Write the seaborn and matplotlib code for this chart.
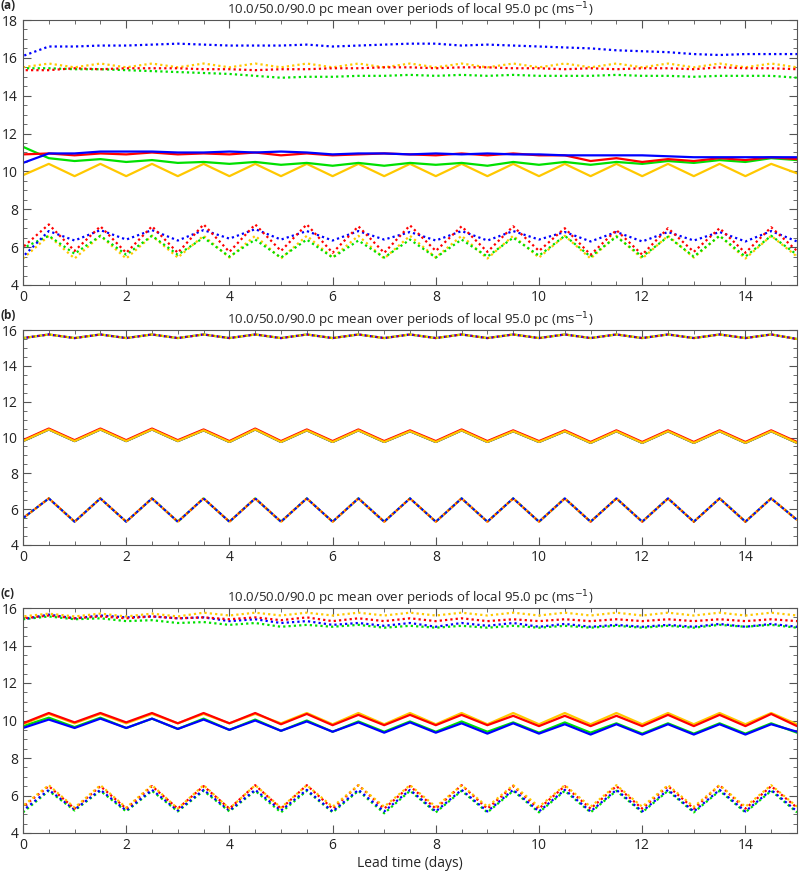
import matplotlib
matplotlib.use("Agg")
import matplotlib.pyplot as plt
import numpy as np
import pandas as pd
import seaborn as sns

days = [0, 0.5, 1, 1.5, 2, 2.5, 3, 3.5, 4, 4.5, 5, 5.5, 6, 6.5, 7, 7.5, 8, 8.5,
        9, 9.5, 10, 10.5, 11, 11.5, 12, 12.5, 13, 13.5, 14, 14.5, 15]

# panel (a)
a_blue_hi = [16.1,16.6,16.6,16.65,16.65,16.7,16.75,16.7,16.65,16.65,16.65,16.7,16.6,16.65,16.7,16.75,16.75,16.65,16.7,16.65,16.6,16.55,16.5,16.4,16.35,16.3,16.2,16.15,16.2,16.2,16.2]
a_orng_hi = [15.5,15.7,15.5,15.7,15.5,15.7,15.5,15.7,15.5,15.7,15.5,15.7,15.5,15.7,15.5,15.7,15.5,15.7,15.5,15.7,15.5,15.7,15.5,15.7,15.5,15.7,15.5,15.7,15.5,15.7,15.5]
a_red_hi = [15.35,15.35,15.45,15.4,15.45,15.45,15.45,15.4,15.4,15.35,15.4,15.4,15.45,15.45,15.5,15.5,15.45,15.5,15.5,15.45,15.45,15.4,15.45,15.4,15.45,15.45,15.4,15.5,15.45,15.45,15.4]
a_grn_hi = [15.45,15.45,15.4,15.4,15.35,15.3,15.25,15.2,15.15,15.05,14.95,15.0,15.0,15.05,15.05,15.1,15.05,15.1,15.05,15.1,15.05,15.05,15.05,15.1,15.05,15.05,15.0,15.05,15.05,15.05,14.95]
a_red_mid = [10.9,10.95,10.85,10.95,10.9,11.0,10.9,10.95,10.9,11.0,10.85,10.95,10.85,10.9,10.95,10.9,10.85,10.95,10.85,10.95,10.85,10.85,10.55,10.7,10.5,10.65,10.55,10.7,10.6,10.75,10.65]
a_blue_mid = [10.45,10.95,10.95,11.05,11.05,11.05,11.0,11.0,11.05,11.0,11.05,11.0,10.9,10.95,10.95,10.9,10.95,10.9,10.95,10.9,10.9,10.85,10.85,10.85,10.85,10.8,10.75,10.75,10.75,10.75,10.75]
a_grn_mid = [11.3,10.7,10.55,10.65,10.5,10.6,10.45,10.5,10.4,10.5,10.35,10.45,10.3,10.45,10.3,10.45,10.35,10.45,10.3,10.5,10.35,10.5,10.35,10.5,10.4,10.55,10.45,10.6,10.5,10.7,10.6]
a_orng_mid = [9.8,10.4,9.75,10.4,9.75,10.4,9.75,10.4,9.75,10.4,9.75,10.4,9.75,10.4,9.75,10.4,9.75,10.4,9.75,10.4,9.75,10.4,9.75,10.4,9.75,10.4,9.75,10.4,9.75,10.4,9.9]
a_red_lo = [6.0,7.2,5.8,7.1,5.7,7.1,5.7,7.2,5.75,7.2,5.8,7.2,5.7,7.1,5.7,7.15,5.8,7.1,5.75,7.1,5.8,7.0,5.6,6.9,5.6,7.0,5.75,7.0,5.7,7.05,5.8]
a_blue_lo = [5.5,6.85,6.35,6.9,6.4,6.9,6.35,6.9,6.45,6.95,6.4,6.85,6.35,6.85,6.4,6.8,6.35,6.85,6.35,6.85,6.4,6.8,6.3,6.8,6.3,6.8,6.35,6.8,6.3,6.85,6.3]
a_grn_lo = [5.95,6.6,5.65,6.6,5.6,6.6,5.6,6.5,5.5,6.4,5.45,6.4,5.45,6.35,5.45,6.4,5.45,6.4,5.5,6.5,5.55,6.6,5.5,6.55,5.5,6.55,5.5,6.6,5.5,6.6,5.6]
a_orng_lo = [5.4,6.6,5.4,6.6,5.4,6.6,5.45,6.6,5.45,6.6,5.4,6.6,5.45,6.6,5.4,6.6,5.45,6.6,5.4,6.6,5.45,6.6,5.4,6.6,5.4,6.6,5.45,6.6,5.4,6.6,5.5]

# panel (b)
b_hi = [15.55,15.75,15.55,15.75,15.55,15.75,15.55,15.75,15.55,15.75,15.55,15.75,15.55,15.75,15.55,15.75,15.55,15.75,15.55,15.75,15.55,15.75,15.55,15.75,15.55,15.75,15.55,15.75,15.55,15.75,15.5]
b_red_mid = [9.85,10.5,9.85,10.5,9.85,10.5,9.85,10.45,9.8,10.5,9.8,10.45,9.8,10.45,9.8,10.4,9.8,10.45,9.8,10.4,9.8,10.4,9.75,10.4,9.75,10.4,9.75,10.4,9.75,10.4,9.75]
b_mid = [9.8,10.45,9.8,10.45,9.8,10.45,9.8,10.4,9.75,10.45,9.75,10.4,9.75,10.4,9.75,10.35,9.75,10.4,9.75,10.35,9.75,10.35,9.7,10.35,9.7,10.35,9.7,10.35,9.7,10.35,9.7]
b_lo = [5.5,6.6,5.3,6.6,5.3,6.6,5.3,6.6,5.3,6.6,5.3,6.6,5.3,6.6,5.3,6.6,5.3,6.6,5.3,6.6,5.3,6.6,5.3,6.6,5.3,6.6,5.3,6.6,5.3,6.6,5.4]

# panel (c)
c_orng_hi = [15.55,15.7,15.55,15.7,15.55,15.7,15.55,15.75,15.6,15.75,15.6,15.75,15.6,15.75,15.6,15.75,15.6,15.75,15.6,15.75,15.6,15.75,15.6,15.75,15.6,15.75,15.6,15.75,15.6,15.75,15.6]
c_red_hi = [15.45,15.6,15.45,15.55,15.45,15.55,15.45,15.5,15.4,15.5,15.35,15.5,15.3,15.45,15.3,15.45,15.3,15.45,15.3,15.4,15.3,15.4,15.3,15.4,15.3,15.4,15.3,15.4,15.3,15.4,15.3]
c_blue_hi = [15.4,15.65,15.45,15.6,15.5,15.55,15.45,15.5,15.3,15.4,15.2,15.3,15.1,15.2,15.05,15.2,15.0,15.2,15.05,15.2,15.0,15.15,15.0,15.1,15.0,15.1,15.0,15.15,15.0,15.15,15.0]
c_grn_hi = [15.4,15.55,15.4,15.45,15.3,15.35,15.2,15.25,15.1,15.2,15.0,15.1,15.0,15.1,14.95,15.05,14.95,15.05,14.95,15.05,14.95,15.05,14.95,15.05,14.95,15.05,14.95,15.1,15.0,15.1,14.95]
c_red_mid = [9.85,10.4,9.9,10.4,9.9,10.4,9.85,10.4,9.85,10.4,9.8,10.35,9.75,10.3,9.75,10.3,9.75,10.3,9.75,10.25,9.7,10.25,9.7,10.25,9.7,10.3,9.7,10.3,9.7,10.35,9.7]
c_orng_mid = [9.8,10.35,9.85,10.35,9.85,10.35,9.85,10.35,9.85,10.35,9.85,10.4,9.8,10.4,9.8,10.4,9.8,10.4,9.8,10.4,9.8,10.4,9.8,10.4,9.8,10.4,9.8,10.4,9.8,10.4,9.8]
c_grn_mid = [9.7,10.15,9.65,10.15,9.6,10.1,9.55,10.1,9.5,10.05,9.45,10.0,9.4,9.95,9.4,9.95,9.4,9.95,9.4,9.9,9.35,9.9,9.35,9.85,9.3,9.85,9.3,9.85,9.3,9.85,9.35]
c_blue_mid = [9.6,10.05,9.6,10.1,9.6,10.1,9.55,10.05,9.5,10.0,9.45,9.95,9.4,9.9,9.35,9.9,9.35,9.85,9.3,9.85,9.3,9.8,9.25,9.8,9.25,9.8,9.25,9.8,9.25,9.8,9.4]
c_orng_lo = [5.45,6.55,5.35,6.55,5.35,6.55,5.3,6.55,5.3,6.55,5.35,6.55,5.4,6.55,5.4,6.55,5.4,6.55,5.4,6.55,5.4,6.55,5.4,6.55,5.4,6.55,5.4,6.55,5.4,6.55,5.4]
c_red_lo = [5.4,6.5,5.3,6.5,5.3,6.5,5.3,6.5,5.3,6.55,5.3,6.55,5.3,6.55,5.3,6.5,5.3,6.55,5.3,6.5,5.3,6.5,5.3,6.5,5.3,6.5,5.3,6.55,5.3,6.5,5.35]
c_blue_lo = [5.2,6.3,5.25,6.3,5.2,6.3,5.2,6.3,5.2,6.3,5.2,6.3,5.15,6.3,5.15,6.3,5.15,6.3,5.15,6.3,5.15,6.3,5.15,6.3,5.15,6.3,5.15,6.3,5.15,6.3,5.15]
c_grn_lo = [5.1,6.25,5.2,6.25,5.15,6.25,5.15,6.25,5.15,6.25,5.1,6.25,5.1,6.25,5.05,6.25,5.1,6.25,5.1,6.25,5.1,6.25,5.1,6.25,5.1,6.25,5.1,6.25,5.1,6.25,5.1]

RED, BLUE, GREEN, ORANGE = "#ff0000", "#0000ff", "#00e000", "#ffc800"

panels = [
    ("(a)", (4, 18), [
        (a_orng_hi, ORANGE, ":"), (a_grn_hi, GREEN, ":"), (a_red_hi, RED, ":"), (a_blue_hi, BLUE, ":"),
        (a_orng_mid, ORANGE, "-"), (a_grn_mid, GREEN, "-"), (a_red_mid, RED, "-"), (a_blue_mid, BLUE, "-"),
        (a_orng_lo, ORANGE, ":"), (a_grn_lo, GREEN, ":"), (a_blue_lo, BLUE, ":"), (a_red_lo, RED, ":"),
    ]),
    ("(b)", (4, 16), [
        (b_hi, GREEN, ":"), (b_hi, RED, ":"), (b_hi, BLUE, ":"), (b_hi, ORANGE, ":"),
        (b_mid, GREEN, "-"), (b_mid, BLUE, "-"), (b_red_mid, RED, "-"), (b_mid, ORANGE, "-"),
        (b_lo, GREEN, ":"), (b_lo, RED, ":"), (b_lo, ORANGE, ":"), (b_lo, BLUE, ":"),
    ]),
    ("(c)", (4, 16), [
        (c_grn_hi, GREEN, ":"), (c_blue_hi, BLUE, ":"), (c_red_hi, RED, ":"), (c_orng_hi, ORANGE, ":"),
        (c_grn_mid, GREEN, "-"), (c_blue_mid, BLUE, "-"), (c_orng_mid, ORANGE, "-"), (c_red_mid, RED, "-"),
        (c_grn_lo, GREEN, ":"), (c_blue_lo, BLUE, ":"), (c_red_lo, RED, ":"), (c_orng_lo, ORANGE, ":"),
    ]),
]

sns.set_style("ticks")
plt.rcParams["font.family"] = ["Open Sans", "DejaVu Sans"]

fig = plt.figure(figsize=(7.99, 8.81), dpi=100)
W, H = 799, 881
boxes = [(20, 285), (330, 545), (608, 833)]
title = "10.0/50.0/90.0 pc mean over periods of local 95.0 pc (ms$^{-1}$)"

for (label, ylim, lines), (top, bot) in zip(panels, boxes):
    ax = fig.add_axes([23 / W, 1 - bot / H, (797 - 23) / W, (bot - top) / H])
    for i, (vals, col, ls) in enumerate(lines):
        sns.lineplot(x=days, y=vals, color=col, linewidth=1.6, ax=ax)
        if ls == ":":
            # shift dot phase so overlapping dotted lines show each colour
            ax.lines[-1].set_linestyle(((i % 4) * 0.6, (1.0, 1.4)))
    ax.set_xlim(0, 15)
    ax.set_ylim(*ylim)
    ax.set_xticks([0, 2, 4, 6, 8, 10, 12, 14])
    ax.set_yticks(np.arange(ylim[0], ylim[1] + 0.1, 2))
    ax.set_yticks(np.arange(ylim[0], ylim[1] + 0.1, 0.5), minor=True)
    ax.set_xticks(np.arange(0, 15.1, 0.5), minor=True)
    ax.tick_params(direction="in", top=True, right=True, which="both", labelsize=10,
                   colors="#555555", labelcolor="#222222")
    ax.tick_params(which="major", length=6)
    ax.tick_params(which="minor", length=3)
    for s in ax.spines.values():
        s.set_color("#555555")
    ax.set_title(title, fontsize=9.5, pad=3)
    ax.annotate(label, xy=(-0.029, 1), xycoords="axes fraction", xytext=(0, 6),
                textcoords="offset points", fontsize=8.5, fontweight="bold",
                ha="left", va="bottom")

ax.set_xlabel("Lead time (days)", fontsize=10, labelpad=2)
fig.savefig("out.png", dpi=100)
